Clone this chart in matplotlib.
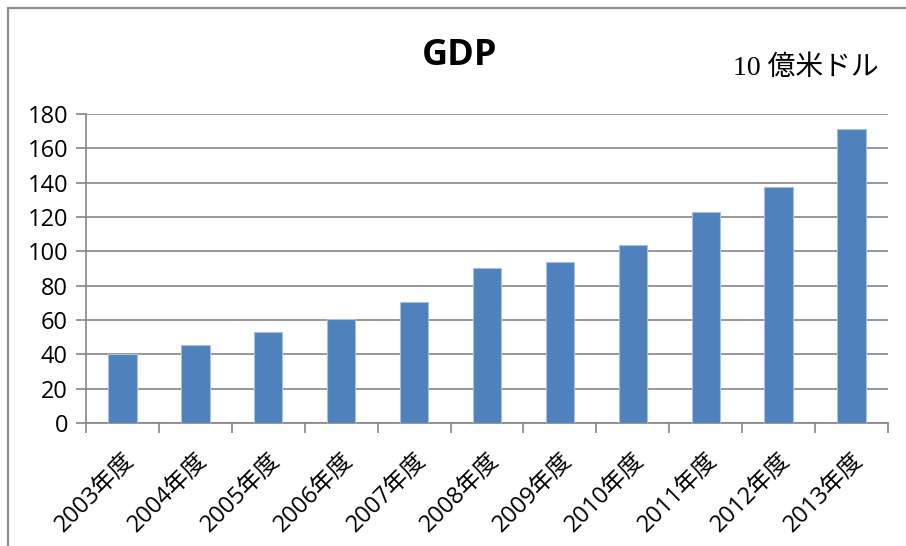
import matplotlib
matplotlib.use("Agg")
import matplotlib.pyplot as plt
from matplotlib.patches import Rectangle

# GDP, 10億米ドル
years = ["2003年度", "2004年度", "2005年度", "2006年度", "2007年度", "2008年度",
         "2009年度", "2010年度", "2011年度", "2012年度", "2013年度"]
gdp = [40, 45.5, 53, 60.5, 70.5, 90.3, 93.5, 103.5, 123.2, 137.3, 171.4]
yticks = list(range(0, 181, 20))

plt.rcParams['font.family'] = ['Open Sans', 'Noto Sans CJK JP', 'DejaVu Sans']

fig = plt.figure(figsize=(9.06, 5.46), dpi=100)
ax = fig.add_axes([86/906, 1 - 423/546, (888 - 86)/906, (423 - 114)/546])

grid_col = '#868686'
x = list(range(len(years)))
ax.bar(x, gdp, width=0.39, color='#4f81bd', edgecolor='#a7c0de', linewidth=0.8, zorder=3)

ax.set_xlim(-0.5, len(years) - 0.5)
ax.set_ylim(0, 180)
ax.set_yticks(yticks)
ax.yaxis.grid(True, color=grid_col, linewidth=1.2, zorder=0)
ax.tick_params(axis='y', direction='out', length=7, width=1.2, color=grid_col,
               labelsize=17, pad=6)

# x ticks sit on the category boundaries, labels on the centres
ax.set_xticks([i - 0.5 for i in range(len(years) + 1)])
ax.set_xticklabels([])
ax.set_xticks(x, minor=True)
ax.set_xticklabels(years, minor=True, rotation=45, ha='right', va='top',
                   rotation_mode='anchor', fontsize=17,
                   family=['Open Sans', 'Noto Sans CJK JP'])
ax.tick_params(axis='x', which='major', direction='out', length=7, width=1.2, color=grid_col)
ax.tick_params(axis='x', which='minor', length=0, pad=18)

for s in ['top', 'right']:
    ax.spines[s].set_visible(False)
for s in ['left', 'bottom']:
    ax.spines[s].set_color(grid_col)
    ax.spines[s].set_linewidth(1.2)

fig.text(460/906, 1 - 56/546, 'GDP', ha='center', va='center', fontsize=26,
         fontweight='bold', family=['Open Sans'])
fig.text(806/906, 1 - 68/546, '10 億米ドル', ha='center', va='center', fontsize=20,
         family=['Liberation Serif', 'Noto Sans CJK JP'])

# outer chart frame
fig.patches.append(Rectangle((8/906, -0.1), 1.2, 1.1 - 8/546, transform=fig.transFigure,
                             fill=False, edgecolor='#8c8c8c', linewidth=1.6))

plt.savefig('out.png', dpi=100)
